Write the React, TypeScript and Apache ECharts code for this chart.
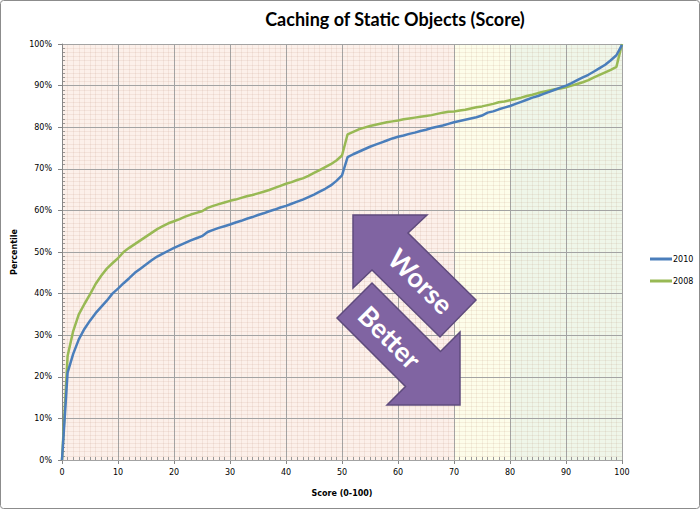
import React, { useEffect, useRef } from 'react';
import * as echarts from 'echarts';

const scores = [
  0, 1, 2, 3, 4, 5, 6, 7, 8, 9, 10, 11, 12, 13, 14, 15, 16, 17, 18, 19, 20,
  21, 22, 23, 24, 25, 26, 27, 28, 29, 30, 31, 32, 33, 34, 35, 36, 37, 38, 39, 40,
  41, 42, 43, 44, 45, 46, 47, 48, 49, 50, 51, 52, 53, 54, 55, 56, 57, 58, 59, 60,
  61, 62, 63, 64, 65, 66, 67, 68, 69, 70, 71, 72, 73, 74, 75, 76, 77, 78, 79, 80,
  81, 82, 83, 84, 85, 86, 87, 88, 89, 90, 91, 92, 93, 94, 95, 96, 97, 98, 99, 100,
];

const pct2010 = [
  0, 21, 25.5, 29, 31.5, 33.5, 35.3, 36.8, 38.3, 40, 41.2,
  42.5, 43.7, 45, 46, 47, 48, 48.9, 49.6, 50.3, 51,
  51.6, 52.2, 52.8, 53.3, 53.8, 54.8, 55.3, 55.8, 56.2, 56.6,
  57.1, 57.5, 58, 58.4, 58.9, 59.3, 59.8, 60.2, 60.7, 61.1,
  61.6, 62.1, 62.6, 63.2, 63.8, 64.5, 65.2, 66, 67.1, 68.4,
  72.8, 73.5, 74.1, 74.7, 75.3, 75.8, 76.3, 76.8, 77.3, 77.7,
  78, 78.4, 78.7, 79.1, 79.4, 79.8, 80.1, 80.4, 80.8, 81.2,
  81.5, 81.8, 82.1, 82.4, 82.8, 83.5, 83.8, 84.3, 84.7, 85.1,
  85.6, 86.1, 86.6, 87.1, 87.5, 88, 88.5, 89, 89.5, 90,
  90.6, 91.3, 92, 92.6, 93.4, 94.2, 95, 96.1, 97.3, 99.8,
];

const pct2008 = [
  0, 25, 31, 35, 37.5, 39.8, 42.3, 44.3, 46, 47.3, 48.5,
  50, 51, 51.9, 52.8, 53.7, 54.6, 55.5, 56.2, 56.9, 57.4,
  57.9, 58.5, 59, 59.4, 59.8, 60.6, 61.1, 61.5, 61.9, 62.3,
  62.6, 63, 63.4, 63.7, 64.1, 64.5, 64.9, 65.4, 65.9, 66.4,
  66.8, 67.3, 67.7, 68.3, 69, 69.7, 70.4, 71.1, 72, 73.2,
  78.3, 78.9, 79.5, 79.9, 80.3, 80.6, 80.9, 81.2, 81.4, 81.6,
  81.9, 82.1, 82.3, 82.5, 82.7, 82.9, 83.2, 83.5, 83.7, 83.8,
  84, 84.2, 84.5, 84.8, 85, 85.3, 85.6, 86, 86.2, 86.5,
  86.8, 87.1, 87.5, 87.8, 88.2, 88.5, 88.8, 89.1, 89.3, 89.6,
  90, 90.4, 90.8, 91.3, 92, 92.6, 93.2, 93.8, 94.5, 100,
];

const seriesNames = ['2010', '2008'];
const titleText = 'Caching of Static Objects (Score)';
const xAxisName = 'Score (0-100)';
const yAxisName = 'Percentile';
const arrowLabels = ['Worse', 'Better'];

const PINK = '#fcf0ea';
const YELLOW = '#fdfdea';
const GREEN = '#eff6e9';
const bandColors = [PINK, PINK, PINK, PINK, PINK, PINK, PINK, YELLOW, GREEN, GREEN];

const labelFont = 'DejaVu Sans, Verdana, sans-serif';

export default function App() {
  const ref = useRef<HTMLDivElement>(null);

  useEffect(() => {
    document.body.style.margin = '0';
    if (!ref.current) return;
    const chart = echarts.init(ref.current, undefined, { renderer: 'svg' });

    const minorAxisCommon = {
      type: 'value' as const,
      min: 0,
      max: 100,
      interval: 10,
      axisLine: { show: false },
      axisLabel: { show: false },
      axisTick: { show: false, inside: true },
      minorTick: { show: true, splitNumber: 10, length: 3, lineStyle: { color: '#9a9a9a' } },
      splitLine: { show: false },
    };

    chart.setOption({
      animation: false,
      backgroundColor: '#ffffff',
      title: {
        text: titleText,
        left: 390,
        top: 5,
        textAlign: 'center',
        textStyle: { fontFamily: 'Lato', fontWeight: 'bold', fontSize: 18, color: '#000' },
      },
      legend: {
        orient: 'vertical',
        left: 645,
        top: 250,
        icon: 'rect',
        itemWidth: 22,
        itemHeight: 3,
        itemGap: 14,
        data: seriesNames,
        textStyle: { fontFamily: labelFont, fontSize: 8, color: '#000', padding: [0, 0, 0, -4] },
      },
      grid: { left: 62, top: 44, width: 560, height: 416 },
      xAxis: [
        {
          type: 'value',
          min: 0,
          max: 100,
          interval: 10,
          z: 0,
          name: xAxisName,
          nameLocation: 'middle',
          nameGap: 29,
          nameTextStyle: { fontFamily: labelFont, fontWeight: 'bold', fontSize: 8, color: '#000' },
          axisLine: { lineStyle: { color: '#868686' } },
          axisTick: { show: true, length: 4, lineStyle: { color: '#868686' } },
          axisLabel: { fontFamily: labelFont, fontSize: 8, color: '#000', margin: 8 },
          splitLine: { show: true, lineStyle: { color: '#a3a3a3' } },
          minorTick: { show: false, splitNumber: 10 },
          minorSplitLine: { show: true, lineStyle: { color: 'rgba(175,115,90,0.11)' } },
          splitArea: { show: true, areaStyle: { color: bandColors } },
        },
        { ...minorAxisCommon, position: 'bottom' },
      ],
      yAxis: [
        {
          type: 'value',
          min: 0,
          max: 100,
          interval: 10,
          z: 1,
          name: yAxisName,
          nameLocation: 'middle',
          nameGap: 40,
          nameTextStyle: { fontFamily: labelFont, fontWeight: 'bold', fontSize: 8, color: '#000' },
          axisLine: { show: true, lineStyle: { color: '#868686' } },
          axisTick: { show: true, length: 4, lineStyle: { color: '#868686' } },
          axisLabel: { fontFamily: labelFont, fontSize: 8, color: '#000', margin: 10, formatter: '{value}%' },
          splitLine: { show: true, lineStyle: { color: '#a3a3a3' } },
          minorTick: { show: false, splitNumber: 10 },
          minorSplitLine: { show: true, lineStyle: { color: 'rgba(175,115,90,0.11)' } },
        },
        { ...minorAxisCommon, position: 'left' },
      ],
      series: [
        {
          name: seriesNames[0],
          type: 'line',
          symbol: 'none',
          z: 5,
          lineStyle: { width: 2.5, color: '#4a7ebb' },
          itemStyle: { color: '#4a7ebb' },
          data: scores.map((s, i) => [s, pct2010[i]]),
        },
        {
          name: seriesNames[1],
          type: 'line',
          symbol: 'none',
          z: 4,
          lineStyle: { width: 2.5, color: '#98b954' },
          itemStyle: { color: '#98b954' },
          data: scores.map((s, i) => [s, pct2008[i]]),
        },
      ],
      graphic: [
        {
          type: 'rect',
          silent: true,
          z: 200,
          shape: { x: 0.5, y: 0.5, width: 699, height: 508, r: 3 },
          style: { fill: 'none', stroke: '#8c8c8c', lineWidth: 1 },
        },
        {
          type: 'polygon',
          z: 100,
          shape: {
            points: [
              [353, 215], [427, 215], [408, 233], [476, 300], [440, 337], [372, 270], [353, 288],
            ],
          },
          style: { fill: '#8064a2', stroke: '#5f4b7d', lineWidth: 1.5 },
        },
        {
          type: 'polygon',
          z: 100,
          shape: {
            points: [
              [337, 318], [372, 283], [440.5, 351.5], [460, 332], [460, 405], [387, 405], [405.5, 386.5],
            ],
          },
          style: { fill: '#8064a2', stroke: '#5f4b7d', lineWidth: 1.5 },
        },
        {
          type: 'text',
          z: 101,
          x: 421,
          y: 281,
          rotation: -Math.PI / 4,
          style: {
            text: arrowLabels[0],
            fill: '#ffffff',
            fontFamily: 'Lato',
            fontWeight: 'bold',
            fontSize: 27,
            align: 'center',
            verticalAlign: 'middle',
          },
        },
        {
          type: 'text',
          z: 101,
          x: 390,
          y: 337,
          rotation: -Math.PI / 4,
          style: {
            text: arrowLabels[1],
            fill: '#ffffff',
            fontFamily: 'Lato',
            fontWeight: 'bold',
            fontSize: 27,
            align: 'center',
            verticalAlign: 'middle',
          },
        },
      ],
    });

    return () => chart.dispose();
  }, []);

  return <div ref={ref} style={{ width: 700, height: 509 }} />;
}
